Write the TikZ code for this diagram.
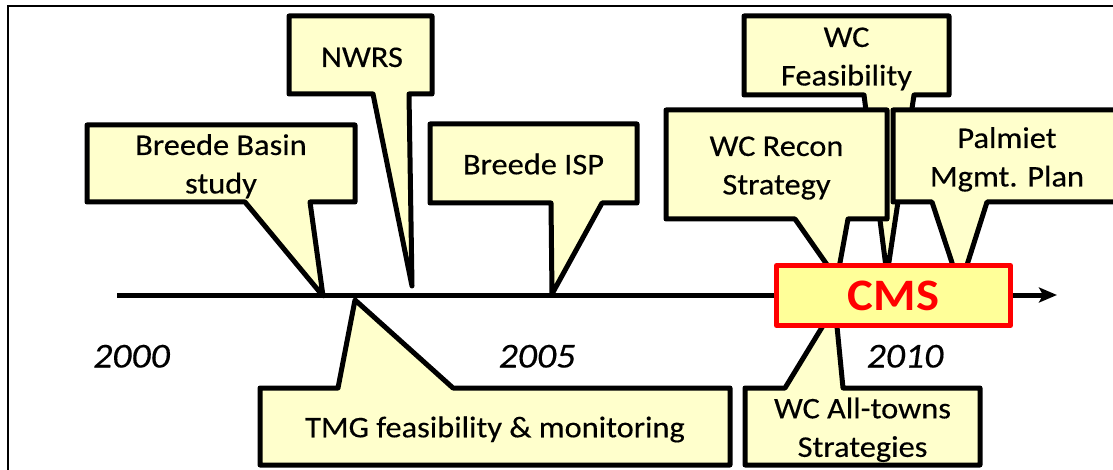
\documentclass[tikz,border=0pt]{standalone}
\usepackage{fontspec}
\setmainfont{Carlito}[FakeStretch=1.08,
  UprightFeatures={FakeBold=0.35}, ItalicFeatures={FakeBold=0.35}]
\usetikzlibrary{arrows.meta}
\definecolor{noteyellow}{HTML}{FFFFCC}
\definecolor{cmsyellow}{HTML}{FFFF99}
\definecolor{cmsred}{HTML}{FF0000}

\begin{document}
\begin{tikzpicture}[x=1pt,y=-1pt,
  callout/.style={draw=black, fill=noteyellow, line width=5pt, line join=round},
  lbl/.style={align=center, inner sep=0pt, font=\fontsize{30}{38.5}\selectfont},
  lblbase/.style={lbl, anchor=base},
  year/.style={anchor=base, inner sep=0pt, font=\fontsize{35}{42}\selectfont\itshape},
  cmsbox/.style={draw=cmsred, fill=cmsyellow, line width=5pt, line join=round,
    minimum width=234pt, minimum height=60pt, inner sep=0pt,
    text=cmsred, font=\fontsize{45}{50}\selectfont\bfseries},
  timeline/.style={line width=5pt, -{Stealth[length=18pt,width=15pt,inset=4pt]}},
]
\useasboundingbox (0,0) rectangle (1113,470);

% outer frame
\draw[line width=2pt] (8,6) rectangle (1140,490);

% time axis
\coordinate (t0) at (117,295);
\coordinate (t1) at (1057,295);
\draw[timeline] (t0) -- (t1);

% year labels
\node[year] (y2000) at (131.5,367.5) {2000};
\node[year] (y2005) at (537,367.5) {2005};
\node[year] (y2010) at (905,367.5) {2010};

% Breede Basin study
\draw[callout] (87,125) -- (355,125) -- (355,202) -- (310,202) -- (323,296)
  -- (245,202) -- (87,202) -- cycle;
\node[lbl] (bbs) at (221,166.5) {\strut Breede Basin\\study\strut};

% NWRS
\draw[callout] (289,16) -- (432,16) -- (432,94) -- (409,94) -- (412,286)
  -- (373,94) -- (289,94) -- cycle;
\node[lblbase] (nwrs) at (362,67) {NWRS};

% Breede ISP
\draw[callout] (430,124) -- (637,124) -- (637,203) -- (602,203) -- (552,294)
  -- (551,203) -- (430,203) -- cycle;
\node[lblbase] (isp) at (533.5,174.3) {Breede ISP};

% TMG feasibility & monitoring
\draw[callout] (260,388) -- (338,388) -- (355,300) -- (453,388) -- (730,388)
  -- (730,465) -- (260,465) -- cycle;
\node[lblbase] (tmg) at (495,437.3) {TMG feasibility \& monitoring};

% WC Feasibility
\draw[callout] (744,16) -- (949,16) -- (949,95) -- (914,95) -- (887,275)
  -- (864,95) -- (744,95) -- cycle;
\node[lbl] (wcf) at (846.5,58.5) {\strut WC\\Feasibility\strut};

% WC Recon Strategy
\draw[callout] (666,110) -- (887,110) -- (887,219) -- (848,219) -- (837,279)
  -- (795,219) -- (666,219) -- cycle;
\node[lbl] (wcr) at (776.5,167.5) {\strut WC Recon\\Strategy\strut};

% Palmiet Mgmt. Plan
\draw[callout] (893,110) -- (1121,110) -- (1121,202) -- (987,202) -- (960,287)
  -- (932,202) -- (893,202) -- cycle;
\node[lbl] (pal) at (1007,159.5) {\strut Palmiet\\Mgmt. Plan\strut};

% WC All-towns Strategies
\draw[callout] (745,388) -- (785,388) -- (835,306) -- (843,388) -- (980,388)
  -- (980,465) -- (745,465) -- cycle;
\node[lbl] (wca) at (862.5,429.9) {\strut WC All-towns\\Strategies\strut};

% CMS
\node[cmsbox] (cms) at (893.5,295.5) {CMS};
\end{tikzpicture}
\end{document}
